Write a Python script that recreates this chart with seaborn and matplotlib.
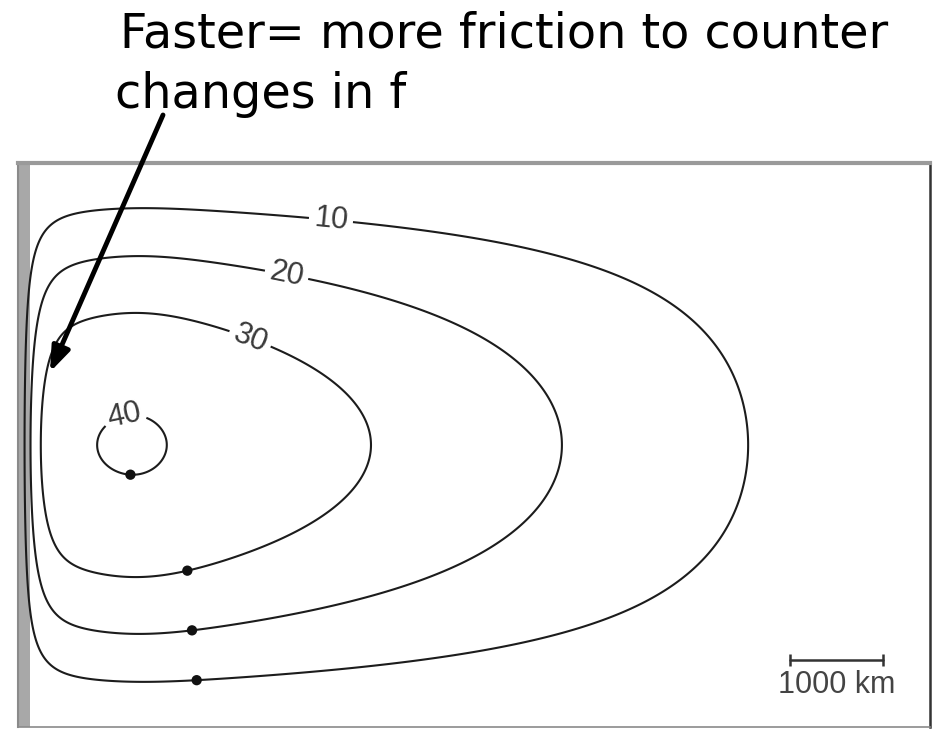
import numpy as np
import pandas as pd
import matplotlib
matplotlib.use("Agg")
import matplotlib.pyplot as plt
import seaborn as sns

# ---------------- data ----------------
levels = [10, 20, 30, 40]
level_labels = ["10", "20", "30", "40"]
basin_width_km = 9750
basin_height_km = 6045
interior_a = 47.7         # interior transport at the western edge
interior_b = 2.9          # interior curvature term
sharp_amp = 41.4          # western boundary-layer amplitude
sharp_km = 160.0          # western boundary-layer width
broad_amp = 6.3           # recirculation plateau amplitude
broad_km = 1050.0         # recirculation plateau width
broad_shape = 2.5         # recirculation plateau exponent
corner_amp = 0.45         # extra rounding of the north/south corners
corner_km = 300.0         # reach of the corner rounding
dot_levels = [10, 20, 30, 40]
dot_x_km = [1890, 1840, 1790, 1180]
label_x_km = [3330, 2850, 2520, 1110]
label_y_km = [5440, 4830, 4300, 3370]
scale_bar_km = 1000
scale_bar_label = "1000 km"
title_lines = ["Faster= more friction to counter", "changes in f"]

# ---------------- style ----------------
sns.set_theme(style="white")
plt.rcParams['font.family'] = ['Liberation Sans', 'DejaVu Sans']

W, H = 940, 729
fig = plt.figure(figsize=(W / 100, H / 100), dpi=100)
fig.patch.set_facecolor("white")
ax = fig.add_axes([18 / W, 2 / H, 912 / W, 564 / H])
ax.set_facecolor("white")

# stream-function field
x = np.linspace(0, basin_width_km, 1400)
y = np.linspace(0, basin_height_km, 900)
X, Y = np.meshgrid(x, y)


def g_of(xx):
    xx = np.asarray(xx, dtype=float)
    s = xx / basin_width_km
    return ((1 - s) * (interior_a + interior_b * s)
            - broad_amp * np.exp(-(xx / broad_km) ** broad_shape)
            - sharp_amp * np.exp(-xx / sharp_km))


def q_of(xx):
    return 1 + corner_amp * np.exp(-np.asarray(xx, dtype=float) / corner_km)


psi = np.sin(np.pi * Y / basin_height_km) ** q_of(X) * g_of(X)

# western wall band
ax.axvspan(-25, 100, color="#a8a8a8", zorder=0, lw=0)

cs = ax.contour(X, Y, psi, levels=levels, colors="#1c1c1c", linewidths=1.5)
ax.clabel(cs, fmt=dict(zip(levels, level_labels)),
          manual=list(zip(label_x_km, label_y_km)),
          inline=True, inline_spacing=4, fontsize=22, colors="#3a3a3a")

# dots on the southern branch of each contour
dot_y = []
for lv, xd in zip(dot_levels, dot_x_km):
    gv = float(g_of(xd))
    sv = min(lv / gv, 1.0) ** (1 / float(q_of(xd)))
    dot_y.append(basin_height_km / np.pi * np.arcsin(sv))
dots = pd.DataFrame({"x": dot_x_km, "y": dot_y})
sns.scatterplot(data=dots, x="x", y="y", ax=ax, color="#111111", s=55,
                edgecolor="none", zorder=5, legend=False)

# scale bar
sb_x0 = 8250
sb_y = 718
sb = pd.DataFrame({"x": [sb_x0, sb_x0 + scale_bar_km], "y": [sb_y, sb_y]})
sns.lineplot(data=sb, x="x", y="y", ax=ax, color="#333333", lw=1.8,
             legend=False)
ax.plot(sb["x"], sb["y"], ls="none", marker="|", ms=8, mew=1.8,
        color="#333333")
ax.text(sb_x0 + scale_bar_km / 2, 450, scale_bar_label, ha="center",
        va="center", fontsize=22, color="#444444")

ax.set_xlim(-25, basin_width_km)
ax.set_ylim(0, basin_height_km)
ax.set_xticks([])
ax.set_yticks([])
ax.set_xlabel("")
ax.set_ylabel("")
for side, col, lw in [("top", "#9a9a9a", 3.0), ("left", "#8a8a8a", 1.5),
                      ("right", "#333333", 1.8), ("bottom", "#8a8a8a", 1.2)]:
    ax.spines[side].set_visible(True)
    ax.spines[side].set_color(col)
    ax.spines[side].set_linewidth(lw)

# title text (fit width)
fs = 36
t1 = fig.text(120 / W, 1 - 48 / H, title_lines[0], fontsize=fs,
              va="baseline", ha="left", family="DejaVu Sans", color="black")
fig.canvas.draw()
w1 = t1.get_window_extent().width
fs = fs * 770 / w1
t1.set_fontsize(fs)
fig.text(115 / W, 1 - 108 / H, title_lines[1], fontsize=fs,
         va="baseline", ha="left", family="DejaVu Sans", color="black")

# arrow
ax.annotate("", xy=(50, H - 372), xycoords="figure pixels",
            xytext=(163, H - 115), textcoords="figure pixels",
            arrowprops=dict(arrowstyle="-|>,head_length=0.75,head_width=0.28",
                            lw=3.5, color="black", shrinkA=0, shrinkB=0,
                            mutation_scale=20),
            annotation_clip=False)

fig.savefig("out.png", dpi=100, facecolor="white")
